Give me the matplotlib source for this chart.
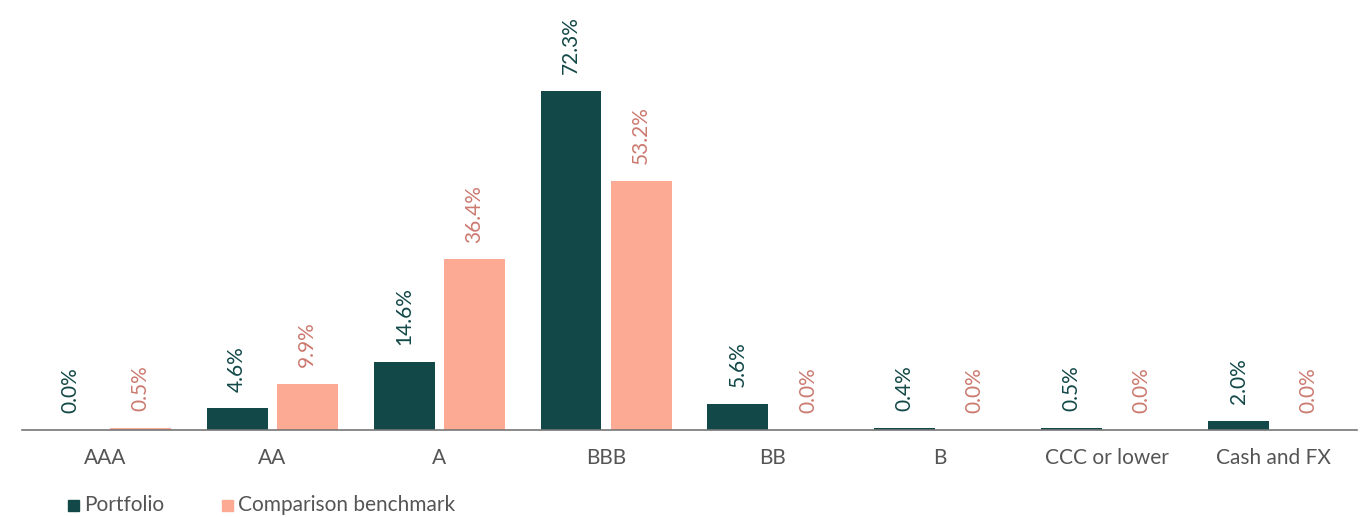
import numpy as np
import matplotlib.pyplot as plt
from matplotlib.patches import Rectangle

categories = ["AAA", "AA", "A", "BBB", "BB", "B", "CCC or lower", "Cash and FX"]
portfolio = [0.0, 4.6, 14.6, 72.3, 5.6, 0.4, 0.5, 2.0]
benchmark = [0.5, 9.9, 36.4, 53.2, 0.0, 0.0, 0.0, 0.0]

dark = "#134848"
salmon = "#fcaa94"
salmon_txt = "#cc7a70"
grey = "#555555"

plt.rcParams["font.family"] = ["Lato", "DejaVu Sans"]

fig = plt.figure(figsize=(13.71, 5.17), dpi=100)
ax = fig.add_axes([22 / 1371, 1 - 430 / 517, 1335 / 1371, 422 / 517])

x = np.arange(len(categories))
w = 0.365
off = 0.21
ax.bar(x - off, portfolio, w, color=dark)
ax.bar(x + off, benchmark, w, color=salmon)

fs = 15
for i in range(len(categories)):
    ax.annotate(f"{portfolio[i]:.1f}%", (x[i] - off, portfolio[i]), xytext=(0, 12),
                textcoords="offset points", rotation=90, ha="center", va="bottom",
                fontsize=fs, color=dark)
    ax.annotate(f"{benchmark[i]:.1f}%", (x[i] + off, benchmark[i]), xytext=(0, 12),
                textcoords="offset points", rotation=90, ha="center", va="bottom",
                fontsize=fs, color=salmon_txt)

ax.set_xlim(-0.5, len(categories) - 0.5)
ax.set_ylim(0, 90)
ax.set_xticks(x)
ax.set_xticklabels(categories, fontsize=fs, color=grey)
ax.tick_params(axis="x", length=0, pad=13)
ax.set_yticks([])
for s in ["top", "right", "left"]:
    ax.spines[s].set_visible(False)
ax.spines["bottom"].set_color("#777777")
ax.spines["bottom"].set_linewidth(1.2)

# legend
fig.patches.append(Rectangle((68 / 1371, 1 - 511 / 517), 11 / 1371, 11 / 517,
                             transform=fig.transFigure, color=dark))
fig.text(84 / 1371, 1 - 505 / 517, "Portfolio", fontsize=fs, color=grey, va="center")
fig.patches.append(Rectangle((222 / 1371, 1 - 511 / 517), 11 / 1371, 11 / 517,
                             transform=fig.transFigure, color=salmon))
fig.text(238 / 1371, 1 - 505 / 517, "Comparison benchmark", fontsize=fs, color=grey,
         va="center")

fig.savefig("out.png", dpi=100)
